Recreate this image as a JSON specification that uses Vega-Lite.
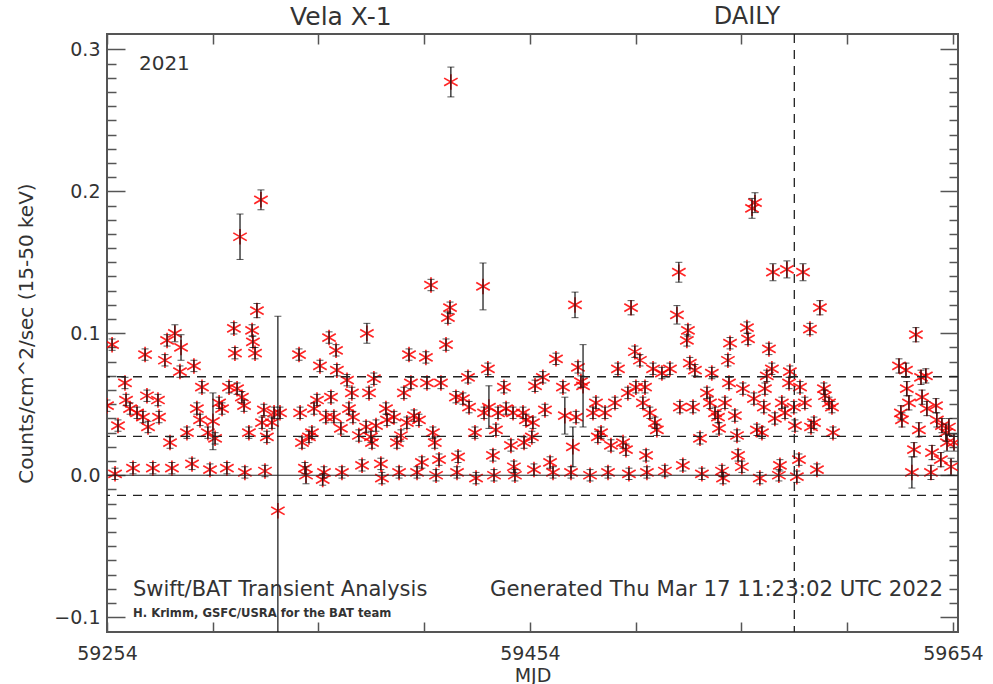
{
  "$schema": "https://vega.github.io/schema/vega-lite/v6.json",
  "width": 851,
  "height": 598,
  "autosize": "none",
  "padding": {"left": 107, "top": 34, "right": 35, "bottom": 52},
  "background": "white",
  "config": {
    "view": {"stroke": "#555", "strokeWidth": 2},
    "font": "DejaVu Sans",
    "axis": {"grid": false, "domain": false, "labelFont": "DejaVu Sans", "titleFont": "DejaVu Sans", "labelColor": "#333", "titleColor": "#333", "tickColor": "#555", "tickWidth": 1.5, "titleFontWeight": "normal", "labelOverlap": false, "labelFlush": false}
  },
  "datasets": {
    "pts": [
      {"t":59254.0,"f":0.049,"e":0.004},{"t":59256.4,"f":0.092,"e":0.004},{"t":59257.8,"f":0.001,"e":0.004},{"t":59259.2,"f":0.035,"e":0.004},
      {"t":59262.5,"f":0.065,"e":0.004},{"t":59263.0,"f":0.053,"e":0.004},{"t":59264.9,"f":0.047,"e":0.004},{"t":59266.3,"f":0.005,"e":0.004},
      {"t":59268.2,"f":0.044,"e":0.004},{"t":59271.0,"f":0.041,"e":0.004},{"t":59272.0,"f":0.085,"e":0.004},{"t":59272.9,"f":0.056,"e":0.004},
      {"t":59273.4,"f":0.034,"e":0.004},{"t":59275.7,"f":0.005,"e":0.004},{"t":59278.1,"f":0.053,"e":0.004},{"t":59278.6,"f":0.041,"e":0.004},
      {"t":59281.4,"f":0.081,"e":0.004},{"t":59282.4,"f":0.095,"e":0.004},{"t":59283.8,"f":0.023,"e":0.004},{"t":59284.7,"f":0.005,"e":0.004},
      {"t":59286.1,"f":0.100,"e":0.006},{"t":59288.5,"f":0.073,"e":0.004},{"t":59289.0,"f":0.090,"e":0.009},{"t":59291.8,"f":0.030,"e":0.004},
      {"t":59294.2,"f":0.008,"e":0.004},{"t":59295.1,"f":0.077,"e":0.004},{"t":59296.5,"f":0.047,"e":0.004},{"t":59298.0,"f":0.039,"e":0.004},
      {"t":59298.9,"f":0.062,"e":0.004},{"t":59301.7,"f":0.030,"e":0.004},{"t":59302.7,"f":0.004,"e":0.004},{"t":59304.1,"f":0.038,"e":0.020},
      {"t":59305.1,"f":0.026,"e":0.004},{"t":59307.0,"f":0.051,"e":0.004},{"t":59308.4,"f":0.047,"e":0.004},{"t":59310.7,"f":0.005,"e":0.004},
      {"t":59311.7,"f":0.062,"e":0.004},{"t":59314.0,"f":0.1035,"e":0.004},{"t":59314.5,"f":0.086,"e":0.004},{"t":59315.5,"f":0.061,"e":0.004},
      {"t":59316.9,"f":0.168,"e":0.016},{"t":59317.8,"f":0.055,"e":0.004},{"t":59318.8,"f":0.049,"e":0.004},{"t":59319.2,"f":0.002,"e":0.004},
      {"t":59321.1,"f":0.030,"e":0.004},{"t":59322.6,"f":0.102,"e":0.004},{"t":59323.0,"f":0.094,"e":0.004},{"t":59324.0,"f":0.086,"e":0.004},
      {"t":59324.9,"f":0.116,"e":0.005},{"t":59326.8,"f":0.194,"e":0.007},{"t":59327.3,"f":0.037,"e":0.004},{"t":59328.2,"f":0.046,"e":0.004},
      {"t":59328.7,"f":0.003,"e":0.004},{"t":59329.6,"f":0.027,"e":0.004},{"t":59332.0,"f":0.037,"e":0.004},{"t":59333.0,"f":0.044,"e":0.004},
      {"t":59334.8,"f":-0.025,"e":0.137},{"t":59335.8,"f":0.044,"e":0.004},{"t":59344.8,"f":0.085,"e":0.004},{"t":59345.3,"f":0.044,"e":0.004},
      {"t":59346.2,"f":0.023,"e":0.004},{"t":59347.6,"f":0.005,"e":0.004},{"t":59348.1,"f":0.000,"e":0.006},{"t":59349.5,"f":0.027,"e":0.004},
      {"t":59350.9,"f":0.030,"e":0.004},{"t":59351.9,"f":0.047,"e":0.004},{"t":59353.3,"f":0.053,"e":0.004},{"t":59354.7,"f":0.077,"e":0.004},
      {"t":59356.0,"f":-0.003,"e":0.004},{"t":59356.6,"f":0.002,"e":0.004},{"t":59357.5,"f":0.041,"e":0.004},{"t":59359.0,"f":0.097,"e":0.004},
      {"t":59359.9,"f":0.055,"e":0.004},{"t":59361.3,"f":0.041,"e":0.004},{"t":59362.3,"f":0.088,"e":0.004},{"t":59362.7,"f":0.074,"e":0.004},
      {"t":59364.6,"f":0.033,"e":0.004},{"t":59365.1,"f":0.002,"e":0.004},{"t":59367.5,"f":0.067,"e":0.004},{"t":59368.4,"f":0.047,"e":0.004},
      {"t":59369.8,"f":0.058,"e":0.004},{"t":59370.3,"f":0.041,"e":0.004},{"t":59373.1,"f":0.028,"e":0.004},{"t":59374.6,"f":0.007,"e":0.004},
      {"t":59376.5,"f":0.034,"e":0.004},{"t":59376.9,"f":0.100,"e":0.007},{"t":59377.9,"f":0.058,"e":0.004},{"t":59378.8,"f":0.027,"e":0.004},
      {"t":59379.3,"f":0.023,"e":0.004},{"t":59380.2,"f":0.068,"e":0.004},{"t":59381.2,"f":0.035,"e":0.004},{"t":59383.5,"f":0.008,"e":0.004},
      {"t":59384.0,"f":-0.002,"e":0.004},{"t":59385.9,"f":0.047,"e":0.004},{"t":59386.4,"f":0.039,"e":0.004},{"t":59389.7,"f":0.041,"e":0.004},
      {"t":59391.1,"f":0.023,"e":0.004},{"t":59392.1,"f":0.002,"e":0.004},{"t":59393.0,"f":0.028,"e":0.004},{"t":59394.4,"f":0.058,"e":0.004},
      {"t":59395.8,"f":0.037,"e":0.004},{"t":59396.8,"f":0.085,"e":0.004},{"t":59397.7,"f":0.065,"e":0.004},{"t":59399.2,"f":0.042,"e":0.004},
      {"t":59400.6,"f":0.002,"e":0.004},{"t":59401.5,"f":0.039,"e":0.004},{"t":59402.9,"f":0.009,"e":0.004},{"t":59404.8,"f":0.083,"e":0.004},
      {"t":59405.3,"f":0.065,"e":0.004},{"t":59407.2,"f":0.134,"e":0.004},{"t":59408.1,"f":0.030,"e":0.004},{"t":59409.0,"f":0.023,"e":0.004},
      {"t":59409.6,"f":0.000,"e":0.004},{"t":59411.0,"f":0.011,"e":0.004},{"t":59411.9,"f":0.065,"e":0.004},{"t":59414.3,"f":0.092,"e":0.004},
      {"t":59415.2,"f":0.111,"e":0.004},{"t":59416.2,"f":0.118,"e":0.004},{"t":59416.6,"f":0.277,"e":0.0105},{"t":59419.0,"f":0.055,"e":0.004},
      {"t":59419.5,"f":0.002,"e":0.004},{"t":59420.0,"f":0.013,"e":0.004},{"t":59422.3,"f":0.054,"e":0.004},{"t":59424.7,"f":0.069,"e":0.004},
      {"t":59425.2,"f":0.048,"e":0.004},{"t":59428.0,"f":0.030,"e":0.004},{"t":59428.5,"f":-0.002,"e":0.004},{"t":59431.8,"f":0.133,"e":0.0165},
      {"t":59432.3,"f":0.044,"e":0.004},{"t":59434.1,"f":0.075,"e":0.004},{"t":59434.6,"f":0.048,"e":0.015},{"t":59436.5,"f":0.014,"e":0.004},
      {"t":59437.0,"f":0.000,"e":0.004},{"t":59437.9,"f":0.032,"e":0.004},{"t":59438.9,"f":0.044,"e":0.004},{"t":59441.7,"f":0.062,"e":0.004},
      {"t":59442.7,"f":0.047,"e":0.004},{"t":59445.0,"f":0.021,"e":0.004},{"t":59446.0,"f":0.044,"e":0.004},{"t":59446.4,"f":0.006,"e":0.004},
      {"t":59446.9,"f":0.000,"e":0.004},{"t":59450.7,"f":0.044,"e":0.004},{"t":59451.2,"f":0.023,"e":0.004},{"t":59452.1,"f":0.039,"e":0.004},
      {"t":59454.9,"f":0.027,"e":0.004},{"t":59455.4,"f":0.037,"e":0.004},{"t":59455.9,"f":0.004,"e":0.004},{"t":59456.4,"f":0.063,"e":0.004},
      {"t":59460.1,"f":0.069,"e":0.004},{"t":59461.1,"f":0.046,"e":0.004},{"t":59463.5,"f":0.009,"e":0.004},{"t":59464.9,"f":0.002,"e":0.004},
      {"t":59466.3,"f":0.082,"e":0.004},{"t":59469.6,"f":0.062,"e":0.004},{"t":59470.5,"f":0.042,"e":0.013},{"t":59473.4,"f":0.002,"e":0.004},
      {"t":59474.3,"f":0.020,"e":0.014},{"t":59475.3,"f":0.120,"e":0.009},{"t":59475.8,"f":0.041,"e":0.004},{"t":59476.7,"f":0.076,"e":0.004},
      {"t":59478.1,"f":0.066,"e":0.004},{"t":59479.1,"f":0.063,"e":0.029},{"t":59482.4,"f":0.000,"e":0.004},{"t":59483.8,"f":0.044,"e":0.004},
      {"t":59485.2,"f":0.051,"e":0.004},{"t":59486.1,"f":0.027,"e":0.004},{"t":59487.6,"f":0.030,"e":0.004},{"t":59489.5,"f":0.044,"e":0.004},
      {"t":59490.9,"f":0.002,"e":0.004},{"t":59492.3,"f":0.021,"e":0.004},{"t":59494.2,"f":0.051,"e":0.004},{"t":59495.6,"f":0.075,"e":0.004},
      {"t":59498.0,"f":0.023,"e":0.004},{"t":59499.4,"f":0.018,"e":0.004},{"t":59500.3,"f":0.058,"e":0.004},{"t":59500.8,"f":0.001,"e":0.004},
      {"t":59501.8,"f":0.118,"e":0.005},{"t":59503.6,"f":0.087,"e":0.004},{"t":59504.1,"f":0.062,"e":0.004},{"t":59506.0,"f":0.081,"e":0.004},
      {"t":59507.4,"f":0.051,"e":0.004},{"t":59508.4,"f":0.062,"e":0.004},{"t":59508.9,"f":0.014,"e":0.004},{"t":59509.3,"f":0.002,"e":0.004},
      {"t":59510.7,"f":0.044,"e":0.004},{"t":59512.2,"f":0.075,"e":0.004},{"t":59513.1,"f":0.037,"e":0.004},{"t":59514.0,"f":0.032,"e":0.004},
      {"t":59516.4,"f":0.072,"e":0.004},{"t":59517.8,"f":0.003,"e":0.004},{"t":59520.2,"f":0.075,"e":0.004},{"t":59523.5,"f":0.113,"e":0.0065},
      {"t":59524.4,"f":0.143,"e":0.007},{"t":59524.9,"f":0.048,"e":0.004},{"t":59526.3,"f":0.007,"e":0.004},{"t":59528.2,"f":0.095,"e":0.004},
      {"t":59528.7,"f":0.102,"e":0.004},{"t":59529.6,"f":0.079,"e":0.004},{"t":59531.1,"f":0.048,"e":0.004},{"t":59532.0,"f":0.074,"e":0.004},
      {"t":59534.4,"f":0.026,"e":0.004},{"t":59535.3,"f":0.001,"e":0.004},{"t":59537.7,"f":0.058,"e":0.004},{"t":59539.1,"f":0.051,"e":0.004},
      {"t":59540.0,"f":0.072,"e":0.004},{"t":59541.5,"f":0.044,"e":0.004},{"t":59542.9,"f":0.041,"e":0.004},{"t":59543.4,"f":0.033,"e":0.004},
      {"t":59544.8,"f":0.003,"e":0.004},{"t":59545.3,"f":-0.002,"e":0.004},{"t":59546.2,"f":0.051,"e":0.004},{"t":59547.6,"f":0.081,"e":0.004},
      {"t":59548.1,"f":0.065,"e":0.004},{"t":59548.6,"f":0.093,"e":0.004},{"t":59550.9,"f":0.042,"e":0.004},{"t":59551.9,"f":0.028,"e":0.004},
      {"t":59552.4,"f":0.014,"e":0.004},{"t":59554.2,"f":0.006,"e":0.004},{"t":59554.7,"f":0.061,"e":0.004},{"t":59556.6,"f":0.104,"e":0.004},
      {"t":59557.1,"f":0.096,"e":0.004},{"t":59559.0,"f":0.188,"e":0.007},{"t":59559.9,"f":0.054,"e":0.004},{"t":59560.4,"f":0.192,"e":0.007},
      {"t":59561.3,"f":0.032,"e":0.004},{"t":59562.7,"f":-0.002,"e":0.004},{"t":59563.7,"f":0.030,"e":0.004},{"t":59564.6,"f":0.048,"e":0.004},
      {"t":59565.1,"f":0.061,"e":0.004},{"t":59566.0,"f":0.070,"e":0.004},{"t":59567.0,"f":0.089,"e":0.004},{"t":59568.4,"f":0.075,"e":0.004},
      {"t":59568.9,"f":0.143,"e":0.006},{"t":59569.8,"f":0.040,"e":0.004},{"t":59571.7,"f":0.000,"e":0.004},{"t":59572.2,"f":0.007,"e":0.004},
      {"t":59573.1,"f":0.051,"e":0.004},{"t":59574.6,"f":0.044,"e":0.004},{"t":59575.5,"f":0.145,"e":0.006},{"t":59576.5,"f":0.065,"e":0.004},
      {"t":59576.9,"f":0.073,"e":0.004},{"t":59578.8,"f":0.048,"e":0.004},{"t":59579.3,"f":0.035,"e":0.004},{"t":59580.2,"f":-0.001,"e":0.004},
      {"t":59581.2,"f":0.011,"e":0.004},{"t":59581.7,"f":0.062,"e":0.004},{"t":59583.1,"f":0.143,"e":0.006},{"t":59584.0,"f":0.051,"e":0.004},
      {"t":59586.4,"f":0.103,"e":0.004},{"t":59586.9,"f":0.034,"e":0.004},{"t":59588.3,"f":0.037,"e":0.004},{"t":59589.7,"f":0.004,"e":0.004},
      {"t":59591.1,"f":0.118,"e":0.005},{"t":59593.0,"f":0.061,"e":0.004},{"t":59593.5,"f":0.056,"e":0.004},{"t":59595.4,"f":0.051,"e":0.004},
      {"t":59596.8,"f":0.048,"e":0.004},{"t":59597.3,"f":0.030,"e":0.004},
      {"t":59628.5,"f":0.077,"e":0.005},{"t":59629.4,"f":0.044,"e":0.005},{"t":59629.9,"f":0.039,"e":0.005},{"t":59631.8,"f":0.074,"e":0.005},
      {"t":59632.2,"f":0.061,"e":0.005},{"t":59633.2,"f":0.051,"e":0.005},{"t":59634.6,"f":0.002,"e":0.011},{"t":59635.6,"f":0.018,"e":0.005},
      {"t":59636.5,"f":0.099,"e":0.005},{"t":59637.9,"f":0.032,"e":0.005},{"t":59638.9,"f":0.069,"e":0.005},{"t":59639.4,"f":0.055,"e":0.005},
      {"t":59641.2,"f":0.070,"e":0.005},{"t":59641.7,"f":0.047,"e":0.005},{"t":59643.6,"f":0.002,"e":0.005},{"t":59644.1,"f":0.016,"e":0.005},
      {"t":59646.0,"f":0.049,"e":0.005},{"t":59646.4,"f":0.039,"e":0.005},{"t":59648.3,"f":0.011,"e":0.005},{"t":59648.8,"f":0.035,"e":0.005},
      {"t":59650.7,"f":0.030,"e":0.006},{"t":59651.2,"f":0.023,"e":0.006},{"t":59652.1,"f":0.034,"e":0.006},{"t":59653.1,"f":0.006,"e":0.006},
      {"t":59654.5,"f":0.023,"e":0.006}
    ]
  },
  "layer": [
    {
      "data": {"name": "pts"},
      "mark": {"type": "point", "shape": "M0,-1L0,1M-0.87,-0.5L0.87,0.5M-0.87,0.5L0.87,-0.5", "filled": false, "stroke": "#ff0000", "strokeWidth": 1.7, "size": 240, "opacity": 0.85, "clip": true},
      "encoding": {
        "x": {"field": "t", "type": "quantitative", "scale": {"domain": [59254, 59656.4], "nice": false, "zero": false},
              "axis": {"orient": "bottom", "offset": -10, "values": [59254, 59304, 59354, 59404, 59454, 59504, 59554, 59604, 59654], "format": "d",
                       "labelExpr": "(datum.value - 59254) % 200 == 0 ? datum.label : ''",
                       "tickSize": 10, "labelFontSize": 19, "labelPadding": 12, "title": "MJD", "titleFontSize": 19, "titlePadding": 3}},
        "y": {"field": "f", "type": "quantitative", "scale": {"domain": [-0.1104, 0.3108], "nice": false, "zero": false},
              "axis": {"orient": "left", "offset": -18, "values": [-0.1, 0, 0.1, 0.2, 0.3], "format": ".1f",
                       "tickSize": 18, "labelFontSize": 19, "labelPadding": 7, "labelBaseline": "middle",
                       "title": "Counts/cm^2/sec (15-50 keV)", "titleFontSize": 20, "titlePadding": 17}}
      }
    },
    {
      "data": {"name": "pts"},
      "mark": {"type": "errorbar", "ticks": {"size": 7, "color": "#111"}, "rule": {"color": "#111", "strokeWidth": 1.2}, "clip": true},
      "encoding": {
        "x": {"field": "t", "type": "quantitative", "scale": {"domain": [59254, 59656.4], "nice": false, "zero": false},
              "axis": {"orient": "top", "offset": -10, "values": [59254, 59304, 59354, 59404, 59454, 59504, 59554, 59604, 59654], "labels": false, "tickSize": 10, "title": null}},
        "y": {"field": "f", "type": "quantitative", "scale": {"domain": [-0.1104, 0.3108], "nice": false, "zero": false},
              "axis": {"orient": "right", "offset": -18, "values": [-0.1, 0, 0.1, 0.2, 0.3], "labels": false, "title": null, "tickSize": 18}},
        "yError": {"field": "e"}
      }
    },
    {"data": {"values": [{}]}, "mark": {"type": "rule", "color": "#222", "strokeWidth": 1.2},
     "encoding": {"y": {"datum": 0, "scale": {"domain": [-0.1104, 0.3108], "nice": false, "zero": false},
        "axis": {"orient": "left", "offset": -9, "tickSize": 9, "labels": false, "title": null,
                 "values": [-0.09,-0.08,-0.07,-0.06,-0.05,-0.04,-0.03,-0.02,-0.01,0.01,0.02,0.03,0.04,0.05,0.06,0.07,0.08,0.09,0.11,0.12,0.13,0.14,0.15,0.16,0.17,0.18,0.19,0.21,0.22,0.23,0.24,0.25,0.26,0.27,0.28,0.29]}}}},
    {"data": {"values": [{}]}, "mark": {"type": "rule", "color": "#222", "strokeWidth": 1.3, "strokeDash": [9, 7]},
     "encoding": {"y": {"datum": 0.0694, "scale": {"domain": [-0.1104, 0.3108], "nice": false, "zero": false},
        "axis": {"orient": "right", "offset": -9, "tickSize": 9, "labels": false, "title": null,
                 "values": [-0.09,-0.08,-0.07,-0.06,-0.05,-0.04,-0.03,-0.02,-0.01,0.01,0.02,0.03,0.04,0.05,0.06,0.07,0.08,0.09,0.11,0.12,0.13,0.14,0.15,0.16,0.17,0.18,0.19,0.21,0.22,0.23,0.24,0.25,0.26,0.27,0.28,0.29]}}}},
    {"data": {"values": [{}]}, "mark": {"type": "rule", "color": "#222", "strokeWidth": 1.3, "strokeDash": [9, 7]}, "encoding": {"y": {"datum": 0.0274, "axis": null}}},
    {"data": {"values": [{}]}, "mark": {"type": "rule", "color": "#222", "strokeWidth": 1.3, "strokeDash": [9, 7]}, "encoding": {"y": {"datum": -0.0142, "axis": null}}},
    {"data": {"values": [{}]}, "mark": {"type": "rule", "color": "#222", "strokeWidth": 1.3, "strokeDash": [9, 7]}, "encoding": {"x": {"datum": 59579.0, "axis": null}}},
    {"data": {"values": [{}]}, "mark": {"type": "text", "fontSize": 25, "color": "#333", "align": "center", "baseline": "middle"},
     "encoding": {"x": {"datum": 59364.6, "axis": null}, "y": {"datum": 0.3228, "axis": null}, "text": {"value": "Vela X-1"}}},
    {"data": {"values": [{}]}, "mark": {"type": "text", "fontSize": 24, "color": "#333", "align": "center", "baseline": "middle"},
     "encoding": {"x": {"datum": 59556.6, "axis": null}, "y": {"datum": 0.3228, "axis": null}, "text": {"value": "DAILY"}}},
    {"data": {"values": [{}]}, "mark": {"type": "text", "fontSize": 20, "color": "#333", "align": "left", "baseline": "middle"},
     "encoding": {"x": {"datum": 59269.1, "axis": null}, "y": {"datum": 0.2897, "axis": null}, "text": {"value": "2021"}}},
    {"data": {"values": [{}]}, "mark": {"type": "text", "fontSize": 21, "color": "#333", "align": "left", "baseline": "middle"},
     "encoding": {"x": {"datum": 59266.3, "axis": null}, "y": {"datum": -0.0808, "axis": null}, "text": {"value": "Swift/BAT Transient Analysis"}}},
    {"data": {"values": [{}]}, "mark": {"type": "text", "fontSize": 11.6, "fontWeight": "bold", "color": "#333", "align": "left", "baseline": "middle"},
     "encoding": {"x": {"datum": 59266.3, "axis": null}, "y": {"datum": -0.0977, "axis": null}, "text": {"value": "H. Krimm, GSFC/USRA for the BAT team"}}},
    {"data": {"values": [{}]}, "mark": {"type": "text", "fontSize": 21.3, "color": "#333", "align": "left", "baseline": "middle"},
     "encoding": {"x": {"datum": 59435.1, "axis": null}, "y": {"datum": -0.0808, "axis": null}, "text": {"value": "Generated Thu Mar 17 11:23:02 UTC 2022"}}}
  ],
  "resolve": {"axis": {"x": "independent", "y": "independent"}}
}
